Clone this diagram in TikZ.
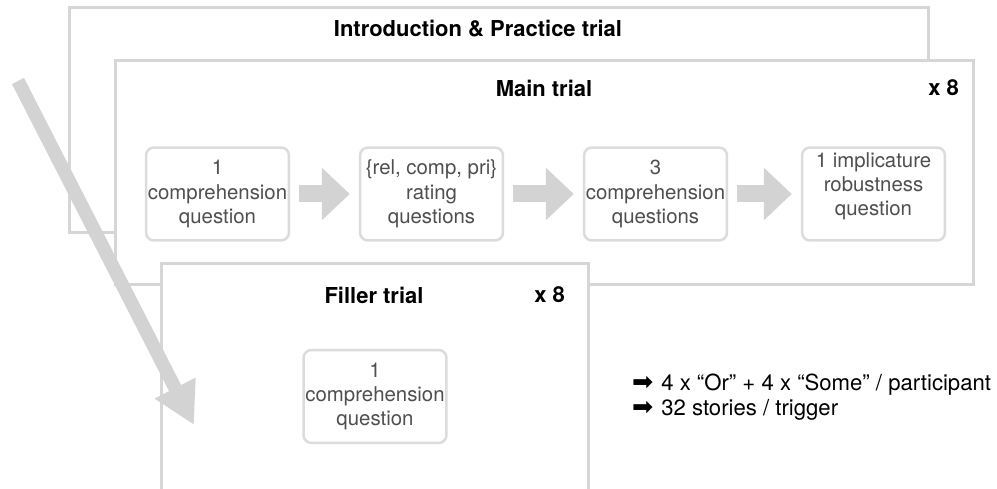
\documentclass[tikz,border=0pt]{standalone}
\usepackage{fontspec}
\setmainfont{TeX Gyre Heros}
\newfontfamily\symfont{DejaVu Sans}
\usepackage{xcolor}
\usepackage{tikz}
\usetikzlibrary{positioning,arrows.meta}

\definecolor{framegray}{HTML}{D6D6D6}
\definecolor{boxgray}{HTML}{DCDCDC}
\definecolor{arrowgray}{HTML}{D3D3D3}
\definecolor{textgray}{HTML}{4F4F4F}

\tikzset{
  trialframe/.style={draw=framegray, line width=0.06cm, fill=white},
  stepbox/.style={draw=boxgray, line width=0.05cm, rounded corners=0.16cm,
    minimum width=2.86cm, minimum height=1.86cm, inner sep=0pt, align=center,
    text=textgray, font=\fontsize{11.6}{13.8}\selectfont},
  frametitle/.style={font=\fontsize{12.5}{15}\selectfont\bfseries},
  notetext/.style={align=left, font=\fontsize{12.6}{14.3}\selectfont},
  blockarrow/.style={arrowgray, line width=0.34cm,
    -{Triangle[width=1.02cm,length=0.56cm]}, shorten <=0.18cm, shorten >=0.18cm},
  bigarrow/.style={arrowgray, line width=0.27cm,
    -{Triangle[width=0.86cm,length=0.83cm]}},
}

\begin{document}
\begin{tikzpicture}[x=0.02cm, y=-0.02cm]
  \useasboundingbox (0,0) rectangle (997,489);
  \clip (0,0) rectangle (997,489);

  % Marco de introduccion
  \draw[trialframe] (69,8) rectangle (928,233);
  \node[frametitle] (intro) at (478,29) {Introduction \& Practice trial};

  % Marco principal
  \draw[trialframe] (115,61) rectangle (973,285);
  \node[frametitle] (main) at (544,88) {Main trial};
  \node[frametitle, anchor=east] (mainrep) at (965,88) {x 8};

  % Pasos del ensayo principal
  \node[stepbox] (q1) at (217.5,194) {1\\comprehension\\question};
  \node[stepbox] (q2) at (431.5,194) {\{rel, comp, pri\}\\rating\\questions};
  \node[stepbox] (q3) at (655.5,194) {3\\comprehension\\questions};
  \node[stepbox, text depth=0.4cm] (q4) at (873.5,194) {1 implicature\\robustness\\question};

  % Flechas
  \draw[blockarrow] (q1) -- (q2);
  \draw[blockarrow] (q2) -- (q3);
  \draw[blockarrow] (q3) -- (q4);

  % Marco de relleno
  \draw[trialframe] (161,264) rectangle (588,500);
  \node[frametitle] (filler) at (374,295) {Filler trial};
  \node[frametitle, anchor=east] (fillerrep) at (571,295) {x 8};
  \node[stepbox] (fq) at (375,396.5) {1\\comprehension\\question};

  % Flecha grande
  \coordinate (start) at (18,81);
  \coordinate (end) at (194,425);
  \draw[bigarrow] (start) -- (end);

  % Notas
  \node[notetext, anchor=west] (notes) at (626,397)
    {{\symfont\Large ➡}\hspace{1pt} 4 x “Or” + 4 x “Some” / participant\\{\symfont\Large ➡}\hspace{1pt} 32 stories / trigger};
\end{tikzpicture}
\end{document}
